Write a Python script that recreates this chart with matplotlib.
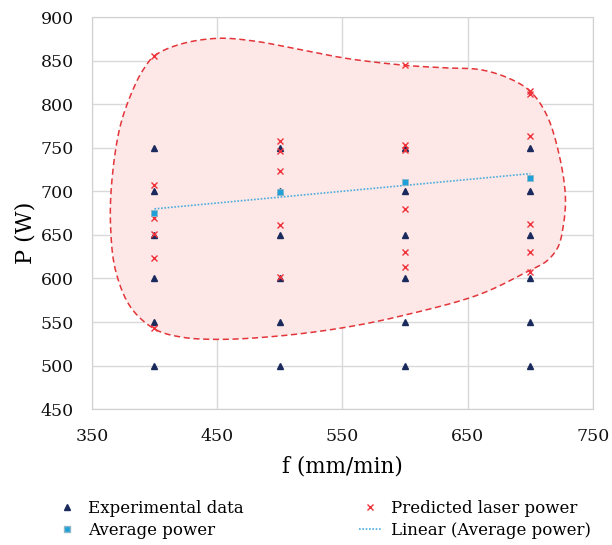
import numpy as np
import matplotlib
matplotlib.use("Agg")
import matplotlib.pyplot as plt
from matplotlib.lines import Line2D

plt.rcParams["font.family"] = ["DejaVu Serif"]

feed_rates = [400, 500, 600, 700]
exp_power = [500, 550, 600, 650, 700, 750]

predicted_400 = [856, 707, 670, 651, 624, 543]
predicted_500 = [758, 746, 724, 662, 602]
predicted_600 = [845, 753, 748, 680, 630, 613]
predicted_700 = [815, 812, 764, 663, 631, 608]
predicted = [predicted_400, predicted_500, predicted_600, predicted_700]

avg_power = [675, 699, 711, 716]

# outline of the predicted region, traced clockwise from the top-left
boundary_f = [400, 420, 450, 479, 513, 553, 600, 633, 660, 683, 700, 713, 723,
              728, 726, 722, 713, 699, 660, 600, 553, 500, 450, 420, 400, 381,
              369, 365, 366, 373, 385, 392]
boundary_p = [856, 869, 876, 873, 864, 853, 845, 842, 840, 830, 815, 788, 742,
              693, 658, 636, 620, 609, 582, 558, 544, 534, 530, 533, 542, 567,
              609, 659, 712, 777, 824, 842]


def closed_spline(xs, ys, steps=30, sx=1.254, sy=0.871):
    # centripetal Catmull-Rom, worked out in roughly screen-scaled units
    pts = np.column_stack([np.asarray(xs) * sx, np.asarray(ys) * sy]).astype(float)
    n = len(pts)
    out = []
    for i in range(n):
        p0, p1, p2, p3 = pts[i - 1], pts[i], pts[(i + 1) % n], pts[(i + 2) % n]
        t0 = 0.0
        t1 = t0 + np.linalg.norm(p1 - p0) ** 0.5
        t2 = t1 + np.linalg.norm(p2 - p1) ** 0.5
        t3 = t2 + np.linalg.norm(p3 - p2) ** 0.5
        t = np.linspace(t1, t2, steps, endpoint=False)[:, None]
        a1 = (t1 - t) / (t1 - t0) * p0 + (t - t0) / (t1 - t0) * p1
        a2 = (t2 - t) / (t2 - t1) * p1 + (t - t1) / (t2 - t1) * p2
        a3 = (t3 - t) / (t3 - t2) * p2 + (t - t2) / (t3 - t2) * p3
        b1 = (t2 - t) / (t2 - t0) * a1 + (t - t0) / (t2 - t0) * a2
        b2 = (t3 - t) / (t3 - t1) * a2 + (t - t1) / (t3 - t1) * a3
        out.append((t2 - t) / (t2 - t1) * b1 + (t - t1) / (t2 - t1) * b2)
    out = np.vstack(out)
    out = np.vstack([out, out[:1]])
    return out[:, 0] / sx, out[:, 1] / sy


fig = plt.figure(figsize=(6.12, 5.45), dpi=100)
ax = fig.add_axes([0.150, 0.2495, 0.819, 0.7185])

cx, cy = closed_spline(boundary_f, boundary_p)
ax.fill(cx, cy, facecolor="#fde7e7", edgecolor="none", zorder=1)
ax.plot(cx, cy, color="#e3353a", lw=1.1, dashes=(4, 2.4), zorder=2)

for f in feed_rates:
    ax.plot([f] * len(exp_power), exp_power, linestyle="none", marker="^",
            ms=5, color="#1a2a5c", zorder=4)

for f, vals in zip(feed_rates, predicted):
    ax.plot([f] * len(vals), vals, linestyle="none", marker="x", ms=5,
            mew=1.0, color="#f0323a", zorder=5)

ax.plot(feed_rates, avg_power, linestyle="none", marker="s", ms=5,
        markerfacecolor="#1fa0d8", markeredgecolor="#8fb8c8", mew=0.6, zorder=6)

slope, intercept = np.polyfit(feed_rates, avg_power, 1)
fit_x = np.array([feed_rates[0], feed_rates[-1]])
ax.plot(fit_x, slope * fit_x + intercept, color="#4aaedd", lw=1.2,
        linestyle=(0, (1, 1)), zorder=3)

ax.set_xlim(350, 750)
ax.set_ylim(450, 900)
ax.set_xticks(np.arange(350, 751, 100))
ax.set_yticks(np.arange(450, 901, 50))
ax.grid(True, color="#d9d9d9", lw=1.0)
ax.set_axisbelow(True)
for s in ax.spines.values():
    s.set_color("#d0d0d0")
ax.tick_params(length=0, labelsize=12.5, colors="#111111")
ax.tick_params(axis="x", pad=14)
ax.tick_params(axis="y", pad=13)
ax.set_xlabel("f (mm/min)", fontsize=15.5, labelpad=7)
ax.set_ylabel("P (W)", fontsize=16, labelpad=4)
ax.yaxis.set_label_coords(-0.11, 0.45)

handles = [
    Line2D([], [], linestyle="none", marker="^", ms=4, color="#1a2a5c"),
    Line2D([], [], linestyle="none", marker="s", ms=4,
           markerfacecolor="#1fa0d8", markeredgecolor="#8fb8c8"),
    Line2D([], [], linestyle="none", marker="x", ms=4, mew=1.0, color="#f0323a"),
    Line2D([], [], color="#4aaedd", lw=1.2, linestyle=(0, (1, 1))),
]
labels = ["Experimental data", "Average power", "Predicted laser power",
          "Linear (Average power)"]
fig.legend(handles, labels, ncol=2, loc="upper left",
           bbox_to_anchor=(0.08, 0.095), bbox_transform=fig.transFigure,
           frameon=False, fontsize=12, handlelength=1.4, handletextpad=0.55,
           columnspacing=6.9, labelspacing=0.3, borderaxespad=0)

fig.savefig("out.png", dpi=100)
